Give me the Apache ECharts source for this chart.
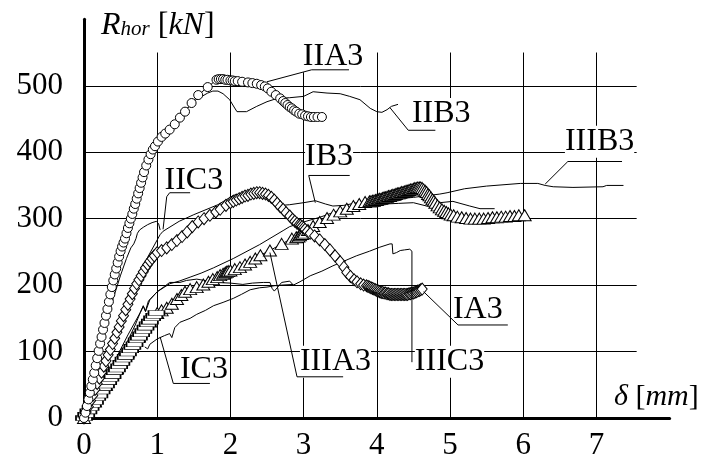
<!DOCTYPE html>
<html>
<head>
<meta charset="utf-8">
<script src="https://cdn.jsdelivr.net/npm/echarts@6/dist/echarts.min.js"></script>
<style>
  html, body { margin: 0; padding: 0; background: #fff; }
  #main { width: 708px; height: 461px; }
</style>
</head>
<body>
<div id="main"></div>
<script>
// ---- data: [delta mm, R kN] ----
const xTicks = [0, 1, 2, 3, 4, 5, 6, 7];
const yTicks = [0, 100, 200, 300, 400, 500];

const iia3 = [[0,0],[0.02,8],[0.04,18],[0.06,28],[0.08,38],[0.10,48],[0.12,58],[0.14,68],[0.16,79],[0.18,90],
  [0.20,101],[0.22,112],[0.24,122],[0.26,133],[0.28,143],[0.30,154],[0.32,164],[0.34,175],[0.36,186],[0.38,197],
  [0.40,207],[0.42,216],[0.44,225],[0.46,234],[0.48,243],[0.50,251],[0.52,258],[0.54,264],[0.56,270],[0.58,278],
  [0.60,286],[0.62,293],[0.64,300],[0.66,307],[0.68,315],[0.70,322],[0.72,330],[0.74,338],[0.76,346],[0.78,354],
  [0.80,362],[0.82,370],[0.85,380],[0.88,389],[0.91,397],[0.94,404],[0.97,409],[1.01,416],[1.06,423],[1.11,428],
  [1.17,434],[1.24,442],[1.31,452],[1.38,461],[1.47,474],[1.56,486],[1.69,498],[1.81,509],[1.84,510],[1.87,510],
  [1.90,510],[1.93,509],[1.96,509],[2.00,508],[2.03,508],[2.06,507],[2.10,507],[2.16,506],[2.24,505],[2.30,504],
  [2.36,503],[2.42,501],[2.47,499],[2.51,496],[2.56,491],[2.62,486],[2.68,481],[2.72,477],[2.75,474],[2.78,471],
  [2.81,468],[2.84,466],[2.87,463],[2.90,461],[2.94,458],[2.98,457],[3.02,455],[3.06,454],[3.10,453],[3.14,453],
  [3.19,453],[3.25,453]];

const iib3 = [[0,0],[0.3,160],[0.6,290],[0.9,395],[1.2,440],[1.5,477],[1.69,489],[1.76,492],[1.83,492],[1.9,488],
  [1.99,479],[2.05,468],[2.09,461],[2.22,461],[2.36,469],[2.5,476],[2.64,481],[2.81,482],[3.0,484],[3.13,491],
  [3.32,489],[3.5,488],[3.63,484],[3.77,479],[3.91,466],[4.0,461],[4.07,460],[4.14,464],[4.2,469],[4.29,472]];

const iic3 = [[0,0],[0.1,45],[0.2,92],[0.3,140],[0.4,180],[0.5,215],[0.58,240],[0.64,256],[0.68,262],[0.71,270],
  [0.73,278],[0.76,283],[0.81,287],[0.87,291],[0.93,294],[0.99,296],[1.02,292],[1.04,283]];

const ia3 = [[0,0],[0.03,9],[0.06,17],[0.09,26],[0.12,34],[0.15,43],[0.18,52],[0.21,60],[0.24,69],[0.27,78],
  [0.30,86],[0.33,95],[0.36,103],[0.39,112],[0.42,120],[0.45,129],[0.48,137],[0.51,146],[0.54,154],[0.57,163],
  [0.60,171],[0.63,179],[0.66,187],[0.69,195],[0.72,202],[0.75,208],[0.78,214],[0.81,220],[0.84,226],[0.87,231],
  [0.90,236],[0.93,240],[0.96,244],[1.00,249],[1.06,252],[1.13,256],[1.20,261],[1.27,267],[1.34,273],[1.41,280],
  [1.48,288],[1.56,295],[1.64,300],[1.72,305],[1.80,310],[1.86,314],[1.94,320],[2.00,324],[2.04,326],[2.08,328],
  [2.12,330],[2.16,332],[2.20,334],[2.24,335],[2.28,337],[2.32,338],[2.36,339],[2.40,339],[2.44,338],[2.48,337],
  [2.52,335],[2.56,332],[2.60,328],[2.64,323],[2.68,318],[2.72,314],[2.76,309],[2.81,304],[2.85,299],[2.88,296],
  [2.91,293],[2.94,291],[2.96,290],[2.98,288],[3.00,286],[3.02,284],[3.05,281],[3.09,278],[3.15,274],[3.22,268],
  [3.29,261],[3.36,253],[3.43,244],[3.50,235],[3.55,227],[3.59,219],[3.64,213],[3.69,208],[3.73,205],[3.78,202],
  [3.82,200],[3.86,199],[3.88,198],[3.90,197],[3.92,196],[3.94,195],[3.96,194],[3.98,193],[4.00,192],[4.02,191],
  [4.04,190],[4.06,189],[4.08,189],[4.10,188],[4.12,188],[4.14,187],[4.16,187],[4.18,186],[4.20,186],[4.22,186],
  [4.24,186],[4.26,186],[4.28,186],[4.30,186],[4.32,186],[4.34,186],[4.36,186],[4.38,186],[4.40,186],[4.42,186],
  [4.44,187],[4.46,187],[4.48,188],[4.50,188],[4.52,189],[4.54,190],[4.56,191],[4.58,192],[4.60,193],[4.62,194]];

const ib3 = [[0,0],[0.35,105],[0.63,185],[0.86,240],[1.04,276],[1.08,281],[1.3,296],[1.5,306],[1.83,321],[2.04,335],
  [2.31,343],[2.42,341],[2.52,334],[2.59,323],[2.7,320],[2.81,321],[3.0,324],[3.16,327],[3.3,322],[3.4,319],
  [3.55,320],[3.73,324],[3.9,325],[4.1,322],[4.3,323],[4.5,324],[4.68,319],[4.86,324],[5.04,326],[5.27,319],
  [5.41,315],[5.61,315]];

const ic3Band = [[0,0],[0.03,5],[0.06,10],[0.09,15],[0.12,20],[0.15,24],[0.18,30],[0.21,34],[0.24,40],[0.27,45],
  [0.30,49],[0.33,54],[0.36,59],[0.39,63],[0.42,69],[0.45,73],[0.48,78],[0.51,83],[0.54,88],[0.57,92],
  [0.60,97],[0.63,102],[0.66,107],[0.69,111],[0.72,117],[0.75,121],[0.78,126],[0.81,131],[0.84,136],[0.87,141],
  [0.90,145],[0.93,150],[0.96,154],[0.99,158]];
const ic3Tail = [[0.83,107],[0.87,104],[0.9,111],[1.0,119],[1.1,124],[1.17,127],[1.2,121],[1.24,136],[1.31,144],
  [1.45,150],[1.54,156],[1.66,162],[1.77,169],[1.9,174],[2.04,180],[2.15,186],[2.27,193],[2.4,196],[2.5,197],
  [2.6,199],[2.7,200],[2.86,201]];

const iiia3 = [[0,0],[0.15,25],[0.3,50],[0.45,75],[0.6,100],[0.75,123],[0.9,145],[1.0,158],[1.06,162],[1.13,166],
  [1.2,172],[1.27,179],[1.33,185],[1.38,190],[1.45,194],[1.54,197],[1.63,201],[1.70,205],[1.76,209],[1.82,212],
  [1.86,215],[1.90,217],[1.93,219],[1.95,220],[1.97,221],[2.0,222],[2.06,224],[2.13,227],[2.20,231],[2.27,235],
  [2.34,240],[2.41,245],[2.54,252],[2.70,262],[2.84,270],[2.90,272],[2.93,273],[2.95,275],[2.98,277],[3.01,279],
  [3.06,283],[3.13,289],[3.22,295],[3.32,301],[3.41,306],[3.50,311],[3.59,315],[3.68,319],[3.76,322],[3.84,325],
  [3.90,326],[3.92,326],[3.94,327],[3.96,327],[3.98,328],[4.00,328],[4.02,329],[4.04,330],[4.06,330],[4.08,331],
  [4.10,332],[4.12,332],[4.14,333],[4.16,334],[4.18,334],[4.20,335],[4.22,336],[4.24,336],[4.26,337],[4.28,338],
  [4.30,338],[4.32,339],[4.34,340],[4.36,340],[4.38,341],[4.40,342],[4.42,342],[4.44,343],[4.46,344],[4.48,344],
  [4.50,345],[4.52,346],[4.54,346],[4.56,347],[4.58,347],[4.60,347],[4.62,346],[4.64,344],[4.66,342],[4.68,340],
  [4.70,337],[4.72,335],[4.74,332],[4.76,329],[4.78,327],[4.80,324],[4.83,320],[4.86,317],[4.89,314],[4.92,312],
  [4.95,310],[4.98,308],[5.01,306],[5.05,305],[5.10,303],[5.16,302],[5.22,301],[5.28,300],[5.34,300],[5.40,300],
  [5.46,300],[5.52,301],[5.58,302],[5.64,302],[5.70,303],[5.76,303],[5.82,304],[5.88,304],[5.94,305],[6.02,305]];

const iiib3 = [[0,0],[0.3,60],[0.6,125],[0.77,159],[0.81,168],[0.84,161],[0.88,176],[1.0,190],[1.17,202],[1.3,206],
  [1.45,212],[1.6,218],[1.77,226],[2.04,240],[2.4,261],[2.72,282],[2.81,288],[3.0,295],[3.22,302],[3.5,313],
  [3.86,323],[4.2,329],[4.5,332],[4.86,337],[4.96,339],[5.2,345],[5.5,349],[5.96,353],[6.2,353],[6.3,350],
  [6.41,348],[6.68,347],[7.09,348],[7.14,350],[7.37,350]];

const iiic3 = [[0,0],[0.3,55],[0.55,105],[0.7,140],[0.77,159],[0.81,169],[0.84,160],[0.9,178],[1.0,190],[1.1,198],
  [1.17,204],[1.31,204],[1.4,207],[1.54,209],[1.7,206],[1.8,204],[2.0,203],[2.17,201],[2.3,203],[2.45,204],
  [2.54,204],[2.57,195],[2.6,191],[2.64,196],[2.7,204],[2.81,206],[2.86,200],[2.95,205],[3.09,214],[3.25,221],
  [3.4,229],[3.55,236],[3.72,244],[3.9,251],[4.04,257],[4.18,262],[4.21,262],[4.22,247],[4.27,249],[4.32,252],
  [4.38,253],[4.45,254],[4.48,251]];

// labels: [text, delta at left edge, R at baseline], leaders in data units
const labels = [['IIA3',2.99,531],['IIB3',4.48,444],['IIIB3',6.57,402],['IB3',3.02,380],['IIC3',1.1,344],
  ['IA3',5.04,149],['IIIA3',2.95,71],['IIIC3',4.52,71],['IC3',1.31,59]];
const leaders = [
  [[2.5,506],[3.11,524],[3.62,524]],
  [[4.18,467],[4.43,433],[4.8,433]],
  [[6.3,352],[6.61,386],[7.35,386]],
  [[3.16,324],[3.07,365],[3.63,365]],
  [[1.08,284],[1.13,333],[1.17,339],[1.45,339]],
  [[4.64,190],[5.11,140],[5.79,140]],
  [[2.54,249],[2.91,62],[3.54,62]],
  [[4.48,251],[4.48,84]],
  [[1.04,122],[1.22,52],[1.72,52]]
];
const gridX = [1, 2, 3, 4, 5, 6, 7];
const gridY = [100, 200, 300, 400, 500];
const gridTop = 550, gridRight = 7.55;

const FONT = '"Liberation Serif", "Times New Roman", serif';

function curve(data, symbol, size, z) {
  return {
    type: 'line', data: data, z: z || 10, silent: true, animation: false,
    symbol: symbol || 'none', symbolSize: size || 0, showSymbol: !!symbol, showAllSymbol: true,
    lineStyle: {color: '#000', width: 1},
    itemStyle: {color: '#fff', borderColor: '#000', borderWidth: 1}
  };
}

let chart = echarts.init(document.getElementById('main'));

let series = [];
// grid lines (do not span the whole axis box)
series.push({
  type: 'line', data: [], z: 1, silent: true, animation: false,
  markLine: {
    symbol: ['none', 'none'], silent: true, animation: false, label: {show: false},
    lineStyle: {color: '#000', width: 1, type: 'solid'},
    emphasis: {disabled: true},
    data: gridX.map(x => [{coord: [x, 0]}, {coord: [x, gridTop]}])
      .concat(gridY.map(y => [{coord: [0, y]}, {coord: [gridRight, y]}]))
  }
});
series.push(curve(iib3));
series.push(curve(iic3));
series.push(curve(ib3));
series.push(curve(iiib3));
series.push(curve(iiic3));
series.push(curve(ic3Tail));
series.push(curve(iiia3, 'triangle', [13, 11], 11));
series.push(curve(ic3Band, 'rect', [16, 5], 12));
series.push(curve(ia3, 'diamond', [10, 12], 13));
series.push(curve(iia3, 'circle', 9, 14));
leaders.forEach(l => series.push(curve(l, null, 0, 20)));

chart.setOption({
  animation: false,
  backgroundColor: '#fff',
  grid: {left: 84, right: 38.4, top: 19.3, bottom: 41.7},
  xAxis: {
    type: 'value', min: 0, max: 8, interval: 1,
    axisLine: {show: true, onZero: false, lineStyle: {color: '#000', width: 3}},
    axisTick: {show: false}, splitLine: {show: false},
    axisLabel: {color: '#000', fontFamily: FONT, fontSize: 31, margin: 12,
      formatter: v => xTicks.indexOf(v) >= 0 ? String(v) : ''}
  },
  yAxis: {
    type: 'value', min: 0, max: 600, interval: 100,
    axisLine: {show: true, onZero: false, lineStyle: {color: '#000', width: 3}},
    axisTick: {show: false}, splitLine: {show: false},
    axisLabel: {color: '#000', fontFamily: FONT, fontSize: 31, margin: 21,
      formatter: v => yTicks.indexOf(v) >= 0 ? String(v) : ''}
  },
  series: series
});

let graphic = labels.map(function(l) {
  let p = chart.convertToPixel({gridIndex: 0}, [l[1], l[2]]);
  return {
    type: 'text', x: p[0], y: p[1] + 7, z: 5, silent: true,
    style: {text: l[0], font: '32px ' + FONT, fill: '#000', align: 'left', verticalAlign: 'bottom',
      backgroundColor: '#fff'}
  };
});
// axis titles
graphic.push({
  type: 'text', x: 101, y: 42, z: 5, silent: true,
  style: {text: '{r|R}{s|hor}{b| [}{i|kN}{b|]}', verticalAlign: 'bottom',
    rich: {
      r: {font: 'italic 32px ' + FONT, fill: '#000'},
      s: {font: 'italic 21px ' + FONT, fill: '#000', padding: [0, 0, -6, 0]},
      b: {font: '32px ' + FONT, fill: '#000'},
      i: {font: 'italic 32px ' + FONT, fill: '#000'}
    }}
});
graphic.push({
  type: 'text', x: 614, y: 412, z: 5, silent: true,
  style: {text: '{i|δ}{b| [}{i|mm}{b|]}', verticalAlign: 'bottom',
    rich: {
      b: {font: '30px ' + FONT, fill: '#000'},
      i: {font: 'italic 30px ' + FONT, fill: '#000'}
    }}
});
chart.setOption({graphic: graphic});
</script>
</body>
</html>
